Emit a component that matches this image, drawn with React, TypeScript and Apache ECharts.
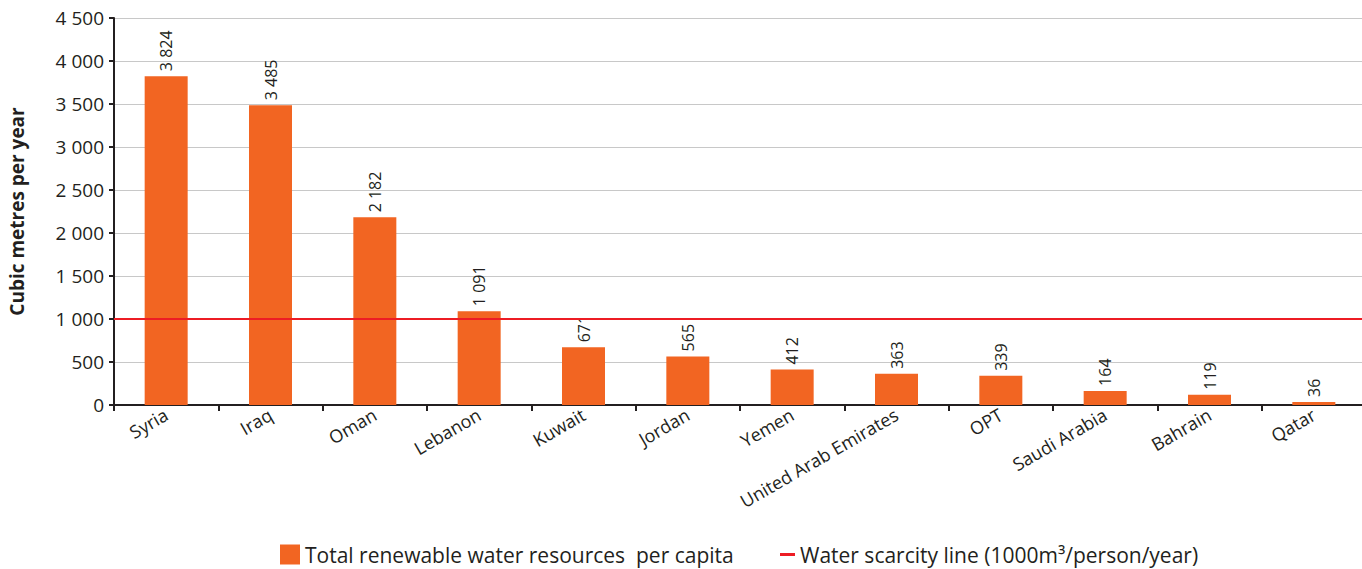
import React, { useEffect, useRef } from "react";
import * as echarts from "echarts";

const categories = ["Syria", "Iraq", "Oman", "Lebanon", "Kuwait", "Jordan", "Yemen", "United Arab Emirates", "OPT", "Saudi Arabia", "Bahrain", "Qatar"];
const waterPerCapita = [3824, 3485, 2182, 1091, 671, 565, 412, 363, 339, 164, 119, 36];
const scarcityLine = 1000;
const yTicks = [0, 500, 1000, 1500, 2000, 2500, 3000, 3500, 4000, 4500];

const barName = "Total renewable water resources  per capita";
const lineName = "Water scarcity line (1000m³/person/year)";

const fmt = (v: number) => String(v).replace(/\B(?=(\d{3})+(?!\d))/g, " ");

const FONT = "Open Sans";
const TEXT = "#231F20";

export default function App() {
  const ref = useRef<HTMLDivElement>(null);
  useEffect(() => {
    document.body.style.margin = "0";
    const chart = echarts.init(ref.current!, null, { renderer: "svg" });
    chart.setOption({
      animation: false,
      textStyle: { fontFamily: FONT, color: TEXT },
      grid: { left: 114, width: 1252, top: 18, bottom: 164, containLabel: false, outerBoundsMode: "none" },
      legend: [
        {
          data: [{ name: barName, icon: "rect" }],
          left: 275,
          top: 539,
          padding: 5,
          itemWidth: 20,
          itemHeight: 20,
          itemGap: 6,
          textStyle: { fontFamily: FONT, fontSize: 21, color: TEXT },
        },
        {
          data: [{ name: lineName, icon: "rect" }],
          left: 775,
          top: 539,
          padding: 5,
          itemWidth: 15,
          itemHeight: 3,
          itemGap: 6,
          textStyle: { fontFamily: FONT, fontSize: 21, color: TEXT },
        },
      ],
      xAxis: {
        type: "category",
        data: categories,
        axisLine: { lineStyle: { color: TEXT, width: 2 } },
        axisTick: { show: true, length: 6, alignWithLabel: false, lineStyle: { color: TEXT, width: 2 } },
        axisLabel: { rotate: 30, fontSize: 18, color: TEXT, fontFamily: FONT, margin: 8, interval: 0 },
      },
      yAxis: {
        type: "value",
        min: 0,
        max: 4500,
        interval: 500,
        name: "Cubic metres per year",
        nameLocation: "middle",
        nameGap: 88,
        nameTextStyle: { fontSize: 19, fontWeight: "bold", color: TEXT, fontFamily: FONT },
        axisLine: { show: true, lineStyle: { color: TEXT, width: 2 } },
        axisTick: { show: true, length: 5, lineStyle: { color: TEXT, width: 2 } },
        axisLabel: { fontSize: 19, color: TEXT, fontFamily: FONT, margin: 10, formatter: (v: number) => fmt(v), customValues: yTicks },
        splitLine: { lineStyle: { color: "#C8C8C8", width: 1 } },
      },
      series: [
        {
          name: barName,
          type: "bar",
          data: waterPerCapita,
          barWidth: 43,
          itemStyle: { color: "#F26522" },
          label: {
            show: true,
            position: "top",
            rotate: 90,
            align: "left",
            verticalAlign: "middle",
            distance: 5,
            fontSize: 16,
            color: TEXT,
            fontFamily: FONT,
            formatter: (p: any) => fmt(p.value),
          },
          z: 3,
        },
        {
          name: lineName,
          type: "line",
          data: [],
          itemStyle: { color: "#ED1C24" },
          lineStyle: { color: "#ED1C24", width: 2 },
          markLine: {
            symbol: "none",
            silent: true,
            label: { show: false },
            lineStyle: { color: "#ED1C24", width: 2, type: "solid" },
            data: [{ yAxis: scarcityLine }],
          },
          z: 1,
        },
      ],
    });
    return () => chart.dispose();
  }, []);
  return <div ref={ref} style={{ width: 1362, height: 569 }} />;
}
